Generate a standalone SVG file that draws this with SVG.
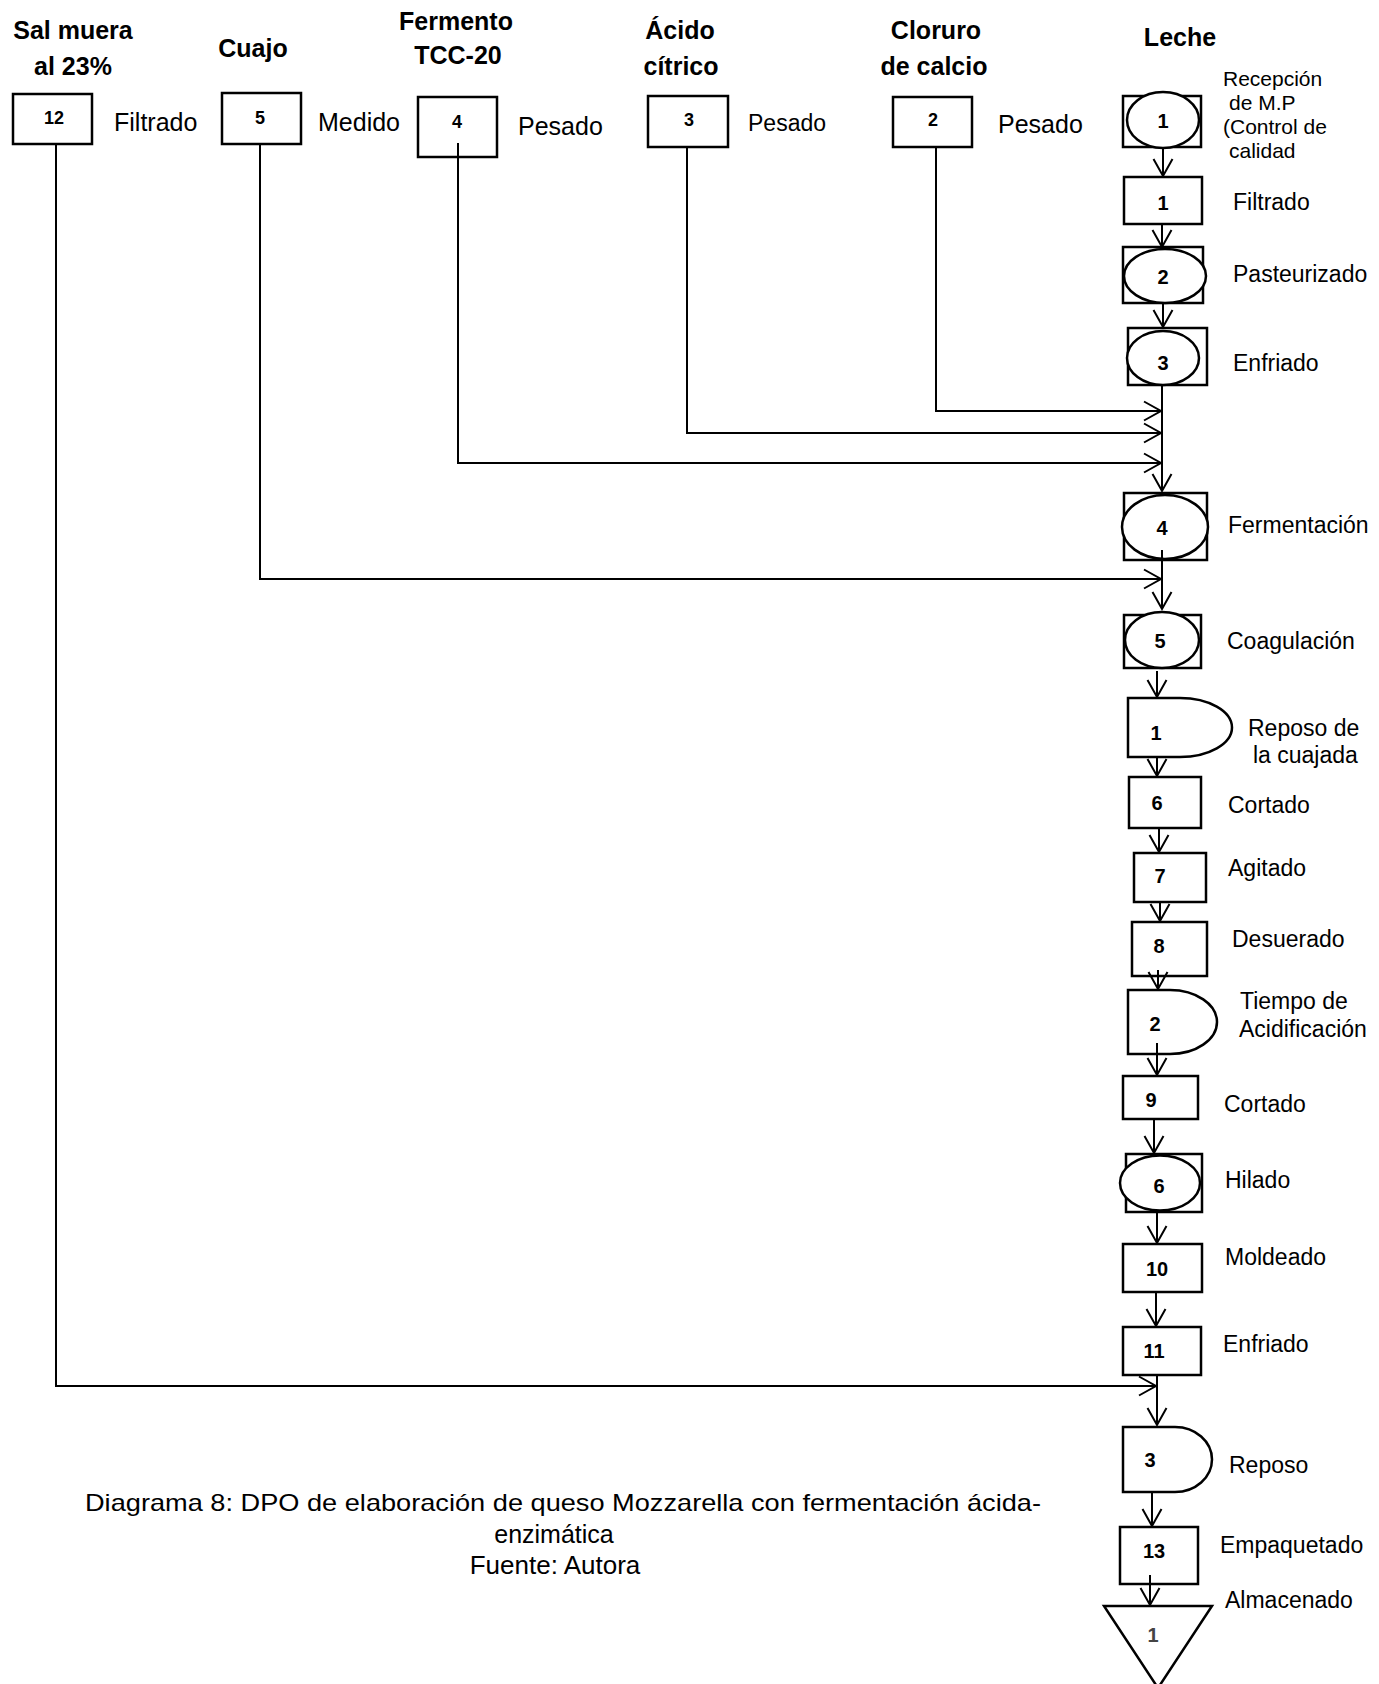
<svg xmlns="http://www.w3.org/2000/svg" width="1379" height="1684" viewBox="0 0 1379 1684">
  <style>
    .shape { fill: #fff; stroke: #000; stroke-width: 2.5; }
    .conn { fill: none; stroke: #000; stroke-width: 2; }
    .num { font-family: "Liberation Sans", Arial, sans-serif; font-weight: bold; font-size: 20px; text-anchor: middle; fill: #000; }
    .numtop { font-family: "Liberation Sans", Arial, sans-serif; font-weight: bold; font-size: 18px; text-anchor: middle; fill: #000; }
    .head { font-family: "Liberation Sans", Arial, sans-serif; font-weight: bold; font-size: 25px; text-anchor: middle; fill: #000; }
    .lbl { font-family: "Liberation Sans", Arial, sans-serif; font-size: 23px; fill: #000; }
    .lbltop { font-family: "Liberation Sans", Arial, sans-serif; font-size: 25px; fill: #000; }
    .small { font-family: "Liberation Sans", Arial, sans-serif; font-size: 21px; fill: #000; }
    .cap { font-family: "Liberation Sans", Arial, sans-serif; font-size: 24px; fill: #000; }
  </style>
  <defs>
    <marker id="arr" markerUnits="userSpaceOnUse" markerWidth="22" markerHeight="24" viewBox="-19 -12 22 24" refX="0" refY="0" orient="auto" overflow="visible">
      <path d="M-17,-9.5 L0,0 L-17,9.5" fill="none" stroke="#000" stroke-width="2"/>
    </marker>
  </defs>
  <rect width="1379" height="1684" fill="#fff"/>

  <!-- material inputs -->
  <g id="n-salmuera">
    <text class="head" x="73" y="39">Sal muera</text>
    <text class="head" x="73" y="75">al 23%</text>
    <rect class="shape" x="13" y="94" width="79" height="50"/>
    <text class="numtop" x="54" y="124">12</text>
    <text class="lbltop" x="114" y="131">Filtrado</text>
  </g>
  <g id="n-cuajo">
    <text class="head" x="253" y="57">Cuajo</text>
    <rect class="shape" x="222" y="93" width="79" height="51"/>
    <text class="numtop" x="260" y="124">5</text>
    <text class="lbltop" x="318" y="131">Medido</text>
  </g>
  <g id="n-fermento">
    <text class="head" x="456" y="30">Fermento</text>
    <text class="head" x="458" y="64">TCC-20</text>
    <rect class="shape" x="418" y="97" width="79" height="60"/>
    <text class="numtop" x="457" y="128">4</text>
    <text class="lbltop" x="518" y="135">Pesado</text>
  </g>
  <g id="n-acido">
    <text class="head" x="680" y="39">Ácido</text>
    <text class="head" x="681" y="75">cítrico</text>
    <rect class="shape" x="648" y="96" width="80" height="51"/>
    <text class="numtop" x="689" y="126">3</text>
    <text class="lbl" x="748" y="131">Pesado</text>
  </g>
  <g id="n-cloruro">
    <text class="head" x="936" y="39">Cloruro</text>
    <text class="head" x="934" y="75">de calcio</text>
    <rect class="shape" x="893" y="97" width="79" height="50"/>
    <text class="numtop" x="933" y="126">2</text>
    <text class="lbltop" x="998" y="133">Pesado</text>
  </g>

  <!-- main line -->
  <g id="n-recepcion">
    <text class="head" x="1180" y="46">Leche</text>
    <rect class="shape" x="1123" y="96" width="78" height="51"/>
    <ellipse class="shape" cx="1163" cy="120" rx="36" ry="28"/>
    <text class="num" x="1163" y="128">1</text>
    <text class="small" x="1223" y="86">Recepción</text>
    <text class="small" x="1229" y="110">de M.P</text>
    <text class="small" x="1223" y="134">(Control de</text>
    <text class="small" x="1229" y="158">calidad</text>
  </g>
  <g id="n-filtrado">
    <rect class="shape" x="1124" y="177" width="78" height="47"/>
    <text class="num" x="1163" y="210">1</text>
    <text class="lbl" x="1233" y="210">Filtrado</text>
  </g>
  <g id="n-pasteurizado">
    <rect class="shape" x="1123" y="247" width="80" height="56"/>
    <ellipse class="shape" cx="1165" cy="276" rx="41" ry="27"/>
    <text class="num" x="1163" y="284">2</text>
    <text class="lbl" x="1233" y="282">Pasteurizado</text>
  </g>
  <g id="n-enfriado1">
    <rect class="shape" x="1128" y="328" width="79" height="57"/>
    <ellipse class="shape" cx="1163" cy="358" rx="36" ry="27"/>
    <text class="num" x="1163" y="370">3</text>
    <text class="lbl" x="1233" y="371">Enfriado</text>
  </g>
  <g id="n-fermentacion">
    <rect class="shape" x="1124" y="493" width="83" height="67"/>
    <ellipse class="shape" cx="1165" cy="527" rx="43" ry="32"/>
    <text class="num" x="1162" y="535">4</text>
    <text class="lbl" x="1228" y="533">Fermentación</text>
  </g>
  <g id="n-coagulacion">
    <rect class="shape" x="1124" y="615" width="77" height="53"/>
    <ellipse class="shape" cx="1162" cy="640" rx="37" ry="28"/>
    <text class="num" x="1160" y="648">5</text>
    <text class="lbl" x="1227" y="649">Coagulación</text>
  </g>
  <g id="n-reposo-cuajada">
    <path class="shape" d="M1128,698 H1180 A52,29.5 0 0 1 1180,757 H1128 Z"/>
    <text class="num" x="1156" y="740">1</text>
    <text class="lbl" x="1248" y="736">Reposo de</text>
    <text class="lbl" x="1253" y="763">la cuajada</text>
  </g>
  <g id="n-cortado1">
    <rect class="shape" x="1129" y="777" width="72" height="51"/>
    <text class="num" x="1157" y="810">6</text>
    <text class="lbl" x="1228" y="813">Cortado</text>
  </g>
  <g id="n-agitado">
    <rect class="shape" x="1134" y="853" width="72" height="49"/>
    <text class="num" x="1160" y="883">7</text>
    <text class="lbl" x="1228" y="876">Agitado</text>
  </g>
  <g id="n-desuerado">
    <rect class="shape" x="1132" y="922" width="75" height="54"/>
    <text class="num" x="1159" y="953">8</text>
    <text class="lbl" x="1232" y="947">Desuerado</text>
  </g>
  <g id="n-acidificacion">
    <path class="shape" d="M1128,990 H1170 A47,32 0 0 1 1170,1054 H1128 Z"/>
    <text class="num" x="1155" y="1031">2</text>
    <text class="lbl" x="1240" y="1009">Tiempo de</text>
    <text class="lbl" x="1239" y="1037">Acidificación</text>
  </g>
  <g id="n-cortado2">
    <rect class="shape" x="1123" y="1076" width="75" height="43"/>
    <text class="num" x="1151" y="1107">9</text>
    <text class="lbl" x="1224" y="1112">Cortado</text>
  </g>
  <g id="n-hilado">
    <rect class="shape" x="1126" y="1154" width="76" height="58"/>
    <ellipse class="shape" cx="1160" cy="1183" rx="40" ry="27.5"/>
    <text class="num" x="1159" y="1193">6</text>
    <text class="lbl" x="1225" y="1188">Hilado</text>
  </g>
  <g id="n-moldeado">
    <rect class="shape" x="1123" y="1244" width="79" height="48"/>
    <text class="num" x="1157" y="1276">10</text>
    <text class="lbl" x="1225" y="1265">Moldeado</text>
  </g>
  <g id="n-enfriado2">
    <rect class="shape" x="1123" y="1327" width="78" height="48"/>
    <text class="num" x="1154" y="1358">11</text>
    <text class="lbl" x="1223" y="1352">Enfriado</text>
  </g>
  <g id="n-reposo">
    <path class="shape" d="M1123,1427 H1175 A37,32.5 0 0 1 1175,1492 H1123 Z"/>
    <text class="num" x="1150" y="1467">3</text>
    <text class="lbl" x="1229" y="1473">Reposo</text>
  </g>
  <g id="n-empaquetado">
    <rect class="shape" x="1120" y="1527" width="78" height="57"/>
    <text class="num" x="1154" y="1558">13</text>
    <text class="lbl" x="1220" y="1553">Empaquetado</text>
  </g>
  <g id="n-almacenado">
    <path class="shape" d="M1104,1606 L1212,1606 L1158,1688 Z"/>
    <text class="num" x="1153" y="1642" style="fill:#444">1</text>
    <text class="lbl" x="1225" y="1608">Almacenado</text>
  </g>

  <!-- connectors -->
  <g id="connectors" class="conn">
    <path d="M1163,148 V176" marker-end="url(#arr)"/>
    <path d="M1162,224 V247" marker-end="url(#arr)"/>
    <path d="M1163,303 V327" marker-end="url(#arr)"/>
    <path d="M1162,385 V491" marker-end="url(#arr)"/>
    <path d="M1162,550 V609" marker-end="url(#arr)"/>
    <path d="M1157,671 V697" marker-end="url(#arr)"/>
    <path d="M1157,757 V776" marker-end="url(#arr)"/>
    <path d="M1159,828 V852" marker-end="url(#arr)"/>
    <path d="M1160,902 V921" marker-end="url(#arr)"/>
    <path d="M1158,970 V989" marker-end="url(#arr)"/>
    <path d="M1157,1043 V1075" marker-end="url(#arr)"/>
    <path d="M1154,1119 V1153" marker-end="url(#arr)"/>
    <path d="M1157,1212 V1243" marker-end="url(#arr)"/>
    <path d="M1156,1292 V1326" marker-end="url(#arr)"/>
    <path d="M1157,1375 V1425" marker-end="url(#arr)"/>
    <path d="M1152,1492 V1526" marker-end="url(#arr)"/>
    <path d="M1150,1575 V1605" marker-end="url(#arr)"/>
    <path d="M936,147 V411 H1161" marker-end="url(#arr)"/>
    <path d="M687,147 V433 H1161" marker-end="url(#arr)"/>
    <path d="M458,143 V463 H1161" marker-end="url(#arr)"/>
    <path d="M260,144 V579 H1161" marker-end="url(#arr)"/>
    <path d="M56,144 V1386 H1156" marker-end="url(#arr)"/>
  </g>

  <!-- caption -->
  <g id="caption">
    <text class="cap" x="85" y="1511" textLength="956" lengthAdjust="spacingAndGlyphs">Diagrama 8: DPO de elaboración de queso Mozzarella con fermentación ácida-</text>
    <text class="cap" x="554" y="1543" text-anchor="middle" style="font-size:25px">enzimática</text>
    <text class="cap" x="555" y="1574" text-anchor="middle" style="font-size:26px">Fuente: Autora</text>
  </g>
</svg>
